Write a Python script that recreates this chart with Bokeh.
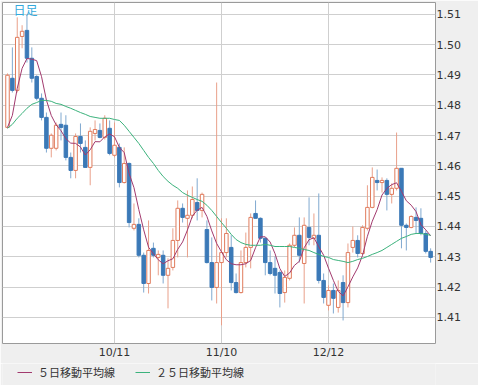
import numpy as np
from bokeh.plotting import figure
from bokeh.layouts import column
from bokeh.models import FixedTicker, Legend, LegendItem, Label, ColumnDataSource, Range1d
from bokeh.embed import file_html
from bokeh.resources import INLINE

# ---- data (daily candles) ----
opens = [1.4727,1.4889,1.4849,1.5027,1.5047,1.4955,1.4895,1.4823,1.4760,1.4658,
         1.4658,1.4737,1.4734,1.4628,1.4585,1.4697,1.4661,1.4595,1.4707,1.4717,
         1.4694,1.4724,1.4635,1.4661,1.4545,1.4608,1.4394,1.4407,1.4305,1.4212,
         1.4328,1.4298,1.4305,1.4239,1.4265,1.4354,1.4460,1.4427,1.4437,1.4479,
         1.4453,1.4390,1.4281,1.4199,1.4281,1.4314,1.4331,1.4215,1.4182,1.4281,
         1.4331,1.4443,1.4427,1.4361,1.4281,1.4262,1.4248,1.4182,1.4229,1.4338,
         1.4371,1.4278,1.4397,1.4361,1.4371,1.4222,1.4140,1.4189,1.4133,1.4215,
         1.4149,1.4331,1.4354,1.4311,1.4394,1.4463,1.4552,1.4545,1.4552,1.4506,
         1.4526,1.4592,1.4404,1.4397,1.4430,1.4427,1.4377,1.4318]
highs = [1.4905,1.4991,1.5090,1.5064,1.5097,1.4991,1.4899,1.4839,1.4776,1.4707,
         1.4743,1.4776,1.4767,1.4644,1.4707,1.4740,1.4684,1.4727,1.4750,1.4740,
         1.4767,1.4750,1.4743,1.4674,1.4661,1.4611,1.4476,1.4427,1.4314,1.4420,
         1.4347,1.4321,1.4321,1.4295,1.4394,1.4486,1.4476,1.4519,1.4532,1.4559,
         1.4512,1.4420,1.4364,1.4875,1.4427,1.4427,1.4371,1.4245,1.4321,1.4380,
         1.4443,1.4486,1.4430,1.4364,1.4321,1.4301,1.4255,1.4255,1.4344,1.4397,
         1.4430,1.4430,1.4496,1.4443,1.4509,1.4245,1.4206,1.4212,1.4222,1.4239,
         1.4344,1.4400,1.4371,1.4404,1.4536,1.4595,1.4588,1.4562,1.4559,1.4542,
         1.4710,1.4592,1.4410,1.4437,1.4463,1.4460,1.4387,1.4328]
lows = [1.4724,1.4842,1.4842,1.4988,1.4941,1.4875,1.4816,1.4750,1.4644,1.4628,
        1.4651,1.4684,1.4618,1.4559,1.4559,1.4644,1.4595,1.4536,1.4684,1.4691,
        1.4687,1.4635,1.4628,1.4529,1.4542,1.4397,1.4387,1.4298,1.4182,1.4179,
        1.4298,1.4239,1.4212,1.4130,1.4255,1.4298,1.4413,1.4298,1.4427,1.4420,
        1.4430,1.4278,1.4156,1.4146,1.4074,1.4298,1.4189,1.4179,1.4179,1.4265,
        1.4262,1.4427,1.4347,1.4239,1.4239,1.4179,1.4133,1.4149,1.4222,1.4331,
        1.4281,1.4146,1.4338,1.4338,1.4212,1.4146,1.4123,1.4113,1.4116,1.4090,
        1.4133,1.4314,1.4298,1.4305,1.4387,1.4460,1.4519,1.4512,1.4453,1.4476,
        1.4519,1.4328,1.4321,1.4394,1.4377,1.4371,1.4311,1.4281]
closes = [1.4899,1.4849,1.5024,1.5044,1.4955,1.4889,1.4823,1.4760,1.4658,1.4701,
          1.4734,1.4727,1.4628,1.4585,1.4697,1.4674,1.4595,1.4714,1.4720,1.4694,
          1.4757,1.4641,1.4668,1.4545,1.4608,1.4413,1.4407,1.4305,1.4212,1.4321,
          1.4305,1.4308,1.4239,1.4262,1.4354,1.4460,1.4430,1.4437,1.4489,1.4453,
          1.4506,1.4281,1.4199,1.4281,1.4314,1.4377,1.4215,1.4182,1.4281,1.4331,
          1.4430,1.4427,1.4361,1.4281,1.4245,1.4239,1.4179,1.4232,1.4338,1.4371,
          1.4305,1.4404,1.4364,1.4371,1.4222,1.4166,1.4189,1.4163,1.4189,1.4149,
          1.4314,1.4354,1.4311,1.4397,1.4463,1.4562,1.4545,1.4552,1.4506,1.4526,
          1.4592,1.4404,1.4397,1.4433,1.4420,1.4377,1.4318,1.4298]
# closes of the four sessions before the first visible candle (for the 5-day MA)
prev_closes = [1.4651, 1.4578, 1.4714, 1.4793]
ma25 = [1.4724,1.4737,1.4757,1.4773,1.4790,1.4803,1.4809,1.4816,1.4816,1.4813,
        1.4806,1.4803,1.4796,1.4790,1.4783,1.4776,1.4770,1.4763,1.4760,1.4757,
        1.4757,1.4757,1.4753,1.4750,1.4734,1.4714,1.4694,1.4674,1.4651,1.4628,
        1.4608,1.4585,1.4565,1.4549,1.4536,1.4526,1.4512,1.4503,1.4496,1.4489,
        1.4483,1.4470,1.4453,1.4433,1.4413,1.4394,1.4374,1.4357,1.4347,1.4341,
        1.4338,1.4338,1.4338,1.4341,1.4338,1.4334,1.4334,1.4334,1.4334,1.4331,
        1.4328,1.4324,1.4321,1.4314,1.4308,1.4301,1.4298,1.4291,1.4288,1.4285,
        1.4281,1.4285,1.4291,1.4295,1.4301,1.4308,1.4314,1.4321,1.4331,1.4341,
        1.4351,1.4361,1.4367,1.4374,1.4377,1.4377,1.4374,1.4371]
x_tick_pos = [22, 44, 66]
x_tick_labels = ["10/11", "11/10", "12/12"]
y_ticks = [1.41, 1.42, 1.43, 1.44, 1.45, 1.46, 1.47, 1.48, 1.49, 1.50, 1.51]
y_tick_labels = ["1.41", "1.42", "1.43", "1.44", "1.45", "1.46", "1.47", "1.48", "1.49", "1.50", "1.51"]
legend_labels = ["５日移動平均線", "２５日移動平均線"]
title_text = "日足"

n = len(closes)
idx = list(range(n))
allc = prev_closes + closes
ma5 = [float(np.mean(allc[i:i + 5])) for i in range(n)]

UP_LINE = "#e07b5c"
UP_WICK = "#e9a08a"
DN_FILL = "#3b79b7"
DN_WICK = "#80a9d0"
MA5_COLOR = "#a23a6e"
MA25_COLOR = "#3bb27c"
BG = "#efefef"

up = [c >= o for o, c in zip(opens, closes)]
src = ColumnDataSource(dict(
    x=idx, o=opens, h=highs, l=lows, c=closes,
    top=[max(o, c) for o, c in zip(opens, closes)],
    bot=[min(o, c) for o, c in zip(opens, closes)],
    wick=[UP_WICK if u else DN_WICK for u in up],
    fill=["#ffffff" if u else DN_FILL for u in up],
    line=[UP_LINE if u else DN_FILL for u in up],
))

p = figure(width=478, height=363, output_backend="svg", toolbar_location=None,
           x_range=Range1d(-1.03, 88.0), y_range=Range1d(1.4014, 1.5139),
           y_axis_location="right", min_border_left=2, min_border_top=2,
           min_border_right=43, min_border_bottom=20)
p.background_fill_color = "#ffffff"
p.border_fill_color = BG
p.outline_line_color = "#9a9a9a"
p.outline_line_width = 1

p.xaxis.ticker = FixedTicker(ticks=x_tick_pos)
p.xaxis.major_label_overrides = dict(zip(x_tick_pos, x_tick_labels))
p.yaxis.ticker = FixedTicker(ticks=y_ticks)
p.yaxis.major_label_overrides = dict(zip(y_ticks, y_tick_labels))
for ax in (p.xaxis[0], p.yaxis[0]):
    ax.axis_line_color = None
    ax.major_tick_line_color = None
    ax.minor_tick_line_color = None
    ax.major_tick_out = 0
    ax.major_tick_in = 0
    ax.major_label_text_font = "DejaVu Sans"
    ax.major_label_text_font_size = "11px"
    ax.major_label_text_color = "#333333"
p.xaxis.major_label_standoff = 2
p.yaxis.major_label_standoff = 1
p.xgrid.ticker = FixedTicker(ticks=x_tick_pos)
p.ygrid.ticker = FixedTicker(ticks=y_ticks)
p.grid.grid_line_color = "#cfcfcf"
p.grid.grid_line_width = 1

p.segment(x0="x", y0="h", x1="x", y1="l", color="wick", line_width=1, source=src)
p.vbar(x="x", width=0.72, top="top", bottom="bot", fill_color="fill",
       line_color="line", line_width=1, source=src)

p.line(idx, ma5, line_color=MA5_COLOR, line_width=1)
p.line(idx, ma25, line_color=MA25_COLOR, line_width=1)

p.add_layout(Label(x=3.7, y=1.5116, text=title_text, text_align="center",
                   text_baseline="middle", text_font="Noto Sans CJK JP",
                   text_font_size="12px", text_color="#33a9dc"))

# ---- legend strip below the chart ----
lf = figure(width=478, height=22, output_backend="svg", toolbar_location=None,
            x_range=Range1d(0, 1), y_range=Range1d(0, 1),
            min_border=0, min_border_left=0, min_border_right=0,
            min_border_top=0, min_border_bottom=0)
lf.axis.visible = False
lf.grid.visible = False
lf.outline_line_color = None
lf.background_fill_color = BG
lf.border_fill_color = BG
# sample renderers that sit outside the strip's visible range (legend swatches only)
g5 = lf.line(x=[5, 6], y=[5, 5], line_color=MA5_COLOR, line_width=1)
g25 = lf.line(x=[5, 6], y=[5, 5], line_color=MA25_COLOR, line_width=1)
legend = Legend(items=[LegendItem(label=legend_labels[0], renderers=[g5]),
                       LegendItem(label=legend_labels[1], renderers=[g25])],
                orientation="horizontal", location=(15, 5),
                padding=0, margin=0, spacing=20, glyph_width=15, glyph_height=14,
                label_height=14, label_standoff=6, label_text_font="Noto Sans CJK JP",
                label_text_font_size="11px", label_text_color="#333333",
                background_fill_alpha=0, border_line_color=None)
lf.add_layout(legend, "center")

layout = column(p, lf, spacing=0)
open("out.html", "w").write(file_html(layout, INLINE))
